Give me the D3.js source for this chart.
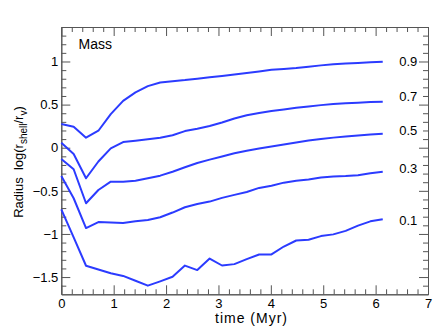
<!DOCTYPE html>
<html><head><meta charset="utf-8">
<script src="https://cdn.jsdelivr.net/npm/d3@7"></script>
<style>
body{margin:0;background:#fff}
svg{display:block}
text{font-family:"Liberation Sans",Arial,Helvetica,sans-serif;fill:#000}
</style>
</head><body>
<svg id="chart" width="434" height="327"></svg>
<script>
// ---- data ----
const times = [0,0.236,0.472,0.708,0.944,1.18,1.416,1.652,1.888,2.124,2.36,2.596,2.832,3.068,3.304,3.54,3.776,4.012,4.248,4.484,4.72,4.956,5.192,5.428,5.664,5.9,6.136];
const mass09 = [0.274,0.243,0.116,0.197,0.39,0.544,0.641,0.714,0.757,0.772,0.784,0.801,0.818,0.833,0.85,0.867,0.884,0.903,0.914,0.925,0.94,0.955,0.969,0.977,0.983,0.99,0.998];
const mass07 = [0.058,-0.073,-0.354,-0.16,-0.007,0.066,0.081,0.097,0.116,0.144,0.193,0.22,0.251,0.292,0.338,0.376,0.402,0.425,0.444,0.463,0.479,0.494,0.506,0.515,0.522,0.529,0.532];
const mass05 = [-0.131,-0.25,-0.644,-0.49,-0.394,-0.394,-0.382,-0.354,-0.324,-0.278,-0.227,-0.177,-0.138,-0.102,-0.065,-0.034,-0.009,0.014,0.037,0.06,0.084,0.1,0.117,0.13,0.142,0.153,0.162];
const mass03 = [-0.328,-0.586,-0.932,-0.862,-0.866,-0.872,-0.854,-0.839,-0.806,-0.752,-0.69,-0.652,-0.625,-0.582,-0.547,-0.513,-0.466,-0.44,-0.405,-0.382,-0.368,-0.345,-0.333,-0.328,-0.319,-0.296,-0.278];
const mass01 = [-0.715,-1.04,-1.369,-1.412,-1.456,-1.487,-1.543,-1.6,-1.55,-1.497,-1.367,-1.419,-1.285,-1.366,-1.35,-1.292,-1.238,-1.238,-1.146,-1.076,-1.068,-1.025,-1.005,-0.964,-0.903,-0.854,-0.829];
const seriesValues = [mass09, mass07, mass05, mass03, mass01];
const massLabels = ["0.9","0.7","0.5","0.3","0.1"];
const massLabelAt = [1.0, 0.6, 0.2, -0.24, -0.84];   // y (data units) of the annotation text
const xTicks = [0,1,2,3,4,5,6,7];
const xMinor = [0.2,0.4,0.6,0.8,1.2,1.4,1.6,1.8,2.2,2.4,2.6,2.8,3.2,3.4,3.6,3.8,4.2,4.4,4.6,4.8,5.2,5.4,5.6,5.8,6.2,6.4,6.6,6.8];
const yTicks = [-1.5,-1,-0.5,0,0.5,1];
const yTickLabels = ["\u22121.5","\u22121","\u22120.5","0","0.5","1"];
const yMinor = [-1.6,-1.4,-1.3,-1.2,-1.1,-0.9,-0.8,-0.7,-0.6,-0.4,-0.3,-0.2,-0.1,0.1,0.2,0.3,0.4,0.6,0.7,0.8,0.9,1.1,1.2,1.3];
const xTitle = "time (Myr)";
const panelTitle = "Mass";

// ---- layout ----
const L = 61.3, R = 428, T = 27, B = 294.3;
const svg = d3.select("#chart");
const x = d3.scaleLinear().domain([0,7]).range([L,R]);
const y = d3.scaleLinear().domain([-1.7,1.4]).range([B,T]);
const axisColor = "#555";

function styleAxis(g){
  g.selectAll("path.domain").attr("stroke", axisColor).attr("stroke-width",1);
  g.selectAll(".tick line").attr("stroke", axisColor).attr("stroke-width",1);
  g.selectAll(".tick text").attr("font-size","13px").attr("fill","#000")
    .attr("font-family",'"Liberation Sans",Arial,sans-serif');
}

// bottom axis (major with labels + minor)
svg.append("g").attr("transform",`translate(0,${B})`)
  .call(d3.axisBottom(x).tickValues(xTicks).tickSizeInner(-9).tickSizeOuter(0).tickPadding(4).tickFormat(d3.format("d")))
  .call(styleAxis);
svg.append("g").attr("transform",`translate(0,${B})`)
  .call(d3.axisBottom(x).tickValues(xMinor).tickSizeInner(-5).tickSizeOuter(0).tickFormat(""))
  .call(styleAxis);
// top axis (mirror)
svg.append("g").attr("transform",`translate(0,${T})`)
  .call(d3.axisTop(x).tickValues(xTicks).tickSizeInner(-9).tickSizeOuter(0).tickFormat(""))
  .call(styleAxis);
svg.append("g").attr("transform",`translate(0,${T})`)
  .call(d3.axisTop(x).tickValues(xMinor).tickSizeInner(-5).tickSizeOuter(0).tickFormat(""))
  .call(styleAxis);
// left axis
svg.append("g").attr("transform",`translate(${L},0)`)
  .call(d3.axisLeft(y).tickValues(yTicks).tickSizeInner(-9).tickSizeOuter(0).tickPadding(3)
        .tickFormat((d,i)=>yTickLabels[i]))
  .call(styleAxis);
svg.append("g").attr("transform",`translate(${L},0)`)
  .call(d3.axisLeft(y).tickValues(yMinor).tickSizeInner(-5).tickSizeOuter(0).tickFormat(""))
  .call(styleAxis);
// right axis (mirror)
svg.append("g").attr("transform",`translate(${R},0)`)
  .call(d3.axisRight(y).tickValues(yTicks).tickSizeInner(-9).tickSizeOuter(0).tickFormat(""))
  .call(styleAxis);
svg.append("g").attr("transform",`translate(${R},0)`)
  .call(d3.axisRight(y).tickValues(yMinor).tickSizeInner(-5).tickSizeOuter(0).tickFormat(""))
  .call(styleAxis);

// ---- curves ----
const line = d3.line().x((d,i)=>x(times[i])).y(d=>y(d));
svg.append("g").selectAll("path.curve").data(seriesValues).join("path")
  .attr("class","curve")
  .attr("d", line)
  .attr("fill","none")
  .attr("stroke","#2b3bff")
  .attr("stroke-width",2)
  .attr("stroke-linejoin","round");

// ---- annotations ----
svg.append("g").selectAll("text").data(massLabels).join("text")
  .attr("x", x(6.45))
  .attr("y", (d,i)=>y(massLabelAt[i]))
  .attr("dy","0.35em")
  .attr("font-size","13px")
  .text(d=>d);

svg.append("text").attr("x", x(0.33)).attr("y", 49)
  .attr("font-size","14px").text(panelTitle);

svg.append("text").attr("x", 251).attr("y", 323)
  .attr("text-anchor","middle").attr("font-size","14px")
  .attr("textLength", 72).attr("lengthAdjust","spacing").text(xTitle);

const yt = svg.append("text")
  .attr("transform","translate(23,162) rotate(-90)")
  .attr("text-anchor","middle").attr("font-size","13px");
yt.append("tspan").text("Radius\u00a0\u00a0log(r");
yt.append("tspan").attr("dy",4).attr("font-size","10px").text("shell");
yt.append("tspan").attr("dy",-4).text("/r");
yt.append("tspan").attr("dy",4).attr("font-size","10px").text("v");
yt.append("tspan").attr("dy",-4).text(")");
</script>
</body></html>
